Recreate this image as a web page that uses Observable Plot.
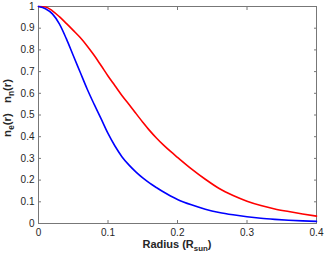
<!DOCTYPE html>
<html><head><meta charset="utf-8">
<script src="https://cdn.jsdelivr.net/npm/d3@7"></script>
<script src="https://cdn.jsdelivr.net/npm/@observablehq/plot@0.6"></script>
<style>body{margin:0;background:#fff}</style>
</head><body><div id="chart"></div>
<script>
const radius = [0, 0.01, 0.02, 0.03, 0.04, 0.05, 0.06, 0.07, 0.08, 0.09, 0.10, 0.11, 0.12, 0.13, 0.14, 0.15, 0.16, 0.17, 0.18, 0.19, 0.20, 0.22, 0.24, 0.26, 0.28, 0.30, 0.32, 0.34, 0.36, 0.38, 0.40];
const neValues = [1, 0.99, 0.966, 0.92, 0.852, 0.774, 0.697, 0.62, 0.55, 0.483, 0.415, 0.357, 0.308, 0.27, 0.238, 0.21, 0.186, 0.165, 0.145, 0.127, 0.111, 0.086, 0.066, 0.051, 0.04, 0.031, 0.024, 0.019, 0.015, 0.012, 0.01];
const nnValues = [1, 0.998, 0.98, 0.953, 0.922, 0.89, 0.857, 0.818, 0.775, 0.728, 0.68, 0.635, 0.59, 0.55, 0.508, 0.467, 0.428, 0.393, 0.361, 0.332, 0.305, 0.252, 0.204, 0.161, 0.129, 0.103, 0.083, 0.067, 0.055, 0.044, 0.034];
const xTicks = [0, 0.1, 0.2, 0.3, 0.4];
const yTicks = [0, 0.1, 0.2, 0.3, 0.4, 0.5, 0.6, 0.7, 0.8, 0.9, 1];

const blue = radius.map((x, i) => ({x, y: neValues[i]}));
const red = radius.map((x, i) => ({x, y: nnValues[i]}));

const axisColor = "#777";
const fmt = d => d === 0 ? "0" : d === 1 ? "1" : String(d);
const chart = Plot.plot({
  width: 325, height: 256,
  marginLeft: 38, marginRight: 9, marginTop: 6, marginBottom: 33,
  style: {fontFamily: "'Liberation Sans', Arial, sans-serif", fontSize: "10px", color: "#262626", background: "#fff"},
  x: {domain: [0, 0.4]},
  y: {domain: [0, 1]},
  marks: [
    Plot.frame({stroke: axisColor}),
    Plot.axisX({ticks: xTicks, tickSize: -3, tickPadding: 8, tickFormat: fmt, stroke: axisColor, label: null, fill: "#262626"}),
    Plot.axisX({anchor: "top", ticks: xTicks, tickSize: -3, tickFormat: () => "", stroke: axisColor, label: null}),
    Plot.axisY({ticks: yTicks, tickSize: -3, tickPadding: 7, tickFormat: fmt, stroke: axisColor, label: null, fill: "#262626"}),
    Plot.axisY({anchor: "right", ticks: yTicks, tickSize: -3, tickFormat: () => "", stroke: axisColor, label: null}),
    Plot.line(red, {x: "x", y: "y", stroke: "#ff0000", strokeWidth: 1.6, curve: "monotone-x"}),
    Plot.line(blue, {x: "x", y: "y", stroke: "#0000ff", strokeWidth: 1.6, curve: "monotone-x"})
  ]
});
document.getElementById("chart").appendChild(chart);

const svg = d3.select(chart);
const ff = "'Liberation Sans', Arial, sans-serif";
function subLabel(sel, main, sub, tail, size) {
  sel.attr("font-family", ff).attr("font-weight", "bold").attr("font-size", size).attr("fill", "#262626");
  sel.append("tspan").text(main);
  sel.append("tspan").attr("font-size", size * 0.72).attr("dy", size * 0.3).text(sub);
  sel.append("tspan").attr("dy", -size * 0.3).text(tail);
}
// X label
subLabel(svg.append("text").attr("x", 177).attr("y", 248).attr("text-anchor", "middle"), "Radius (R", "sun", ")", 11);
// Y labels
subLabel(svg.append("text").attr("transform", "translate(11,125) rotate(-90)").attr("text-anchor", "middle"), "n", "e", "(r)", 11.5);
subLabel(svg.append("text").attr("transform", "translate(11,91) rotate(-90)").attr("text-anchor", "middle"), "n", "n", "(r)", 11.5);
</script>
</body></html>
